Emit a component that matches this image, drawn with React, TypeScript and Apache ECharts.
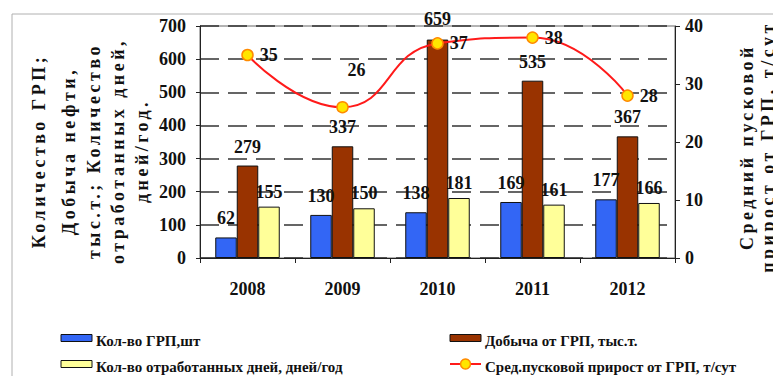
import React, { useEffect, useRef } from "react";
import * as echarts from "echarts";

const years = ["2008", "2009", "2010", "2011", "2012"];
const grpCount = [62, 130, 138, 169, 177];
const oilProduction = [279, 337, 659, 535, 367];
const workedDays = [155, 150, 181, 161, 166];
const avgIncrease = [35, 26, 37, 38, 28];

const seriesNames = [
  "Кол-во ГРП,шт",
  "Добыча от ГРП, тыс.т.",
  "Кол-во отработанных дней, дней/год",
  "Сред.пусковой прирост от ГРП, т/сут",
];

const leftTitle = [
  "Количество ГРП;",
  "Добыча нефти,",
  "тыс.т.; Количество",
  "отработанных дней,",
  "дней/год.",
];
const rightTitle = ["Средний пусковой", "прирост от ГРП, т/сут"];

const SERIF = "Liberation Serif";
const COLORS = ["#3366F5", "#993300", "#FFFF99", "#FF1A1A"];

export default function App() {
  const ref = useRef<HTMLDivElement>(null);
  useEffect(() => {
    if (!ref.current) return;
    const chart = echarts.init(ref.current, null, { renderer: "svg" });

    const labelStyle = {
      show: true,
      position: "top",
      fontFamily: SERIF,
      fontWeight: "bold",
      fontSize: 18,
      color: "#111",
    };

    const leftX = [39, 69, 94, 118, 142];
    const rightX = [747, 768];

    const titleStyle = (t: string) => ({
      text: t,
      fontFamily: SERIF,
      fontWeight: "bold",
      fontSize: 18,
      fill: "#111",
      textAlign: "center",
      textVerticalAlign: "middle",
    });

    // legend drawn as graphic elements: [iconX, textCenterY]
    const legendSlots = [
      [61, 341],
      [450, 341],
      [61, 367],
      [450, 367],
    ];
    const legendGraphics: any[] = [];
    seriesNames.forEach((name, i) => {
      const [x, cy] = legendSlots[i];
      const iy = cy - 3;
      if (i < 3) {
        legendGraphics.push({
          type: "rect",
          shape: { x, y: iy - 3.5, width: 31, height: 7 },
          style: { fill: COLORS[i], stroke: "#111", lineWidth: 1 },
        });
      } else {
        legendGraphics.push({
          type: "line",
          shape: { x1: x, y1: iy, x2: x + 31, y2: iy },
          style: { stroke: COLORS[3], lineWidth: 2 },
        });
        legendGraphics.push({
          type: "circle",
          shape: { cx: x + 15.5, cy: iy, r: 5 },
          style: { fill: "#FFE600", stroke: "#FF8A00", lineWidth: 1.5 },
        });
      }
      legendGraphics.push({
        type: "text",
        x: x + 35,
        y: cy,
        style: {
          text: name,
          fontFamily: SERIF,
          fontWeight: "bold",
          fontSize: 15,
          fill: "#111",
          textAlign: "left",
          textVerticalAlign: "middle",
        },
      });
    });

    const graphics: any[] = [
      {
        type: "rect",
        z: -10,
        shape: { x: 12, y: 14, width: 800, height: 400 },
        style: { fill: "none", stroke: "#b0b0b0", lineWidth: 1 },
      },
      ...leftTitle.map((t, i) => ({
        type: "text",
        x: leftX[i],
        y: 151,
        rotation: Math.PI / 2,
        style: titleStyle(t),
      })),
      ...rightTitle.map((t, i) => ({
        type: "text",
        x: rightX[i],
        y: 147,
        rotation: Math.PI / 2,
        style: titleStyle(t),
      })),
      ...legendGraphics,
    ];

    const option: any = {
      animation: false,
      backgroundColor: "#fff",
      textStyle: { fontFamily: SERIF },
      grid: {
        left: 200,
        right: 98,
        top: 26,
        bottom: 118,
        show: true,
        borderColor: "#666",
        borderWidth: 1,
      },
      xAxis: {
        type: "category",
        data: years,
        axisLine: { lineStyle: { color: "#222", width: 1 } },
        axisTick: { show: true, length: 5, lineStyle: { color: "#222" } },
        axisLabel: {
          fontFamily: SERIF,
          fontWeight: "bold",
          fontSize: 18,
          color: "#111",
          margin: 22,
        },
      },
      yAxis: [
        {
          type: "value",
          min: 0,
          max: 700,
          interval: 100,
          axisLine: { show: true, lineStyle: { color: "#222" } },
          axisTick: { show: true, length: 4, lineStyle: { color: "#222" } },
          axisLabel: {
            fontFamily: SERIF,
            fontWeight: "bold",
            fontSize: 18,
            color: "#111",
            margin: 14,
          },
          splitLine: {
            show: true,
            lineStyle: { color: "#333", width: 1.5, type: [19, 9] },
          },
        },
        {
          type: "value",
          min: 0,
          max: 40,
          interval: 10,
          position: "right",
          axisLine: { show: true, lineStyle: { color: "#222" } },
          axisTick: { show: true, length: 5, lineStyle: { color: "#222" } },
          axisLabel: {
            fontFamily: SERIF,
            fontWeight: "bold",
            fontSize: 18,
            color: "#111",
            margin: 10,
          },
          splitLine: { show: false },
        },
      ],
      series: [
        {
          name: seriesNames[0],
          type: "bar",
          data: grpCount,
          barWidth: 21.5,
          barGap: "0%",
          itemStyle: { color: COLORS[0], borderColor: "#111", borderWidth: 1 },
          label: { ...labelStyle, distance: 10 },
        },
        {
          name: seriesNames[1],
          type: "bar",
          data: oilProduction.map((v, i) =>
            i === 2 ? { value: v, label: { offset: [0, -2] } } : v
          ),
          barWidth: 21.5,
          barGap: "0%",
          itemStyle: { color: COLORS[1], borderColor: "#111", borderWidth: 1 },
          label: { ...labelStyle, distance: 10 },
        },
        {
          name: seriesNames[2],
          type: "bar",
          data: workedDays,
          barWidth: 21.5,
          barGap: "0%",
          itemStyle: { color: COLORS[2], borderColor: "#111", borderWidth: 1 },
          label: { ...labelStyle, distance: 6 },
        },
        {
          name: seriesNames[3],
          type: "line",
          yAxisIndex: 1,
          data: avgIncrease.map((v, i) =>
            i === 1
              ? { value: v, label: { position: "top", offset: [14, -16] } }
              : v
          ),
          smooth: 0.5,
          symbol: "circle",
          symbolSize: 11,
          z: 5,
          lineStyle: { color: COLORS[3], width: 2 },
          itemStyle: { color: "#FFE600", borderColor: "#FF8A00", borderWidth: 1.5 },
          label: { ...labelStyle, position: "right", distance: 6 },
        },
      ],
      graphic: graphics,
    };

    chart.setOption(option);

    // widen the axis titles' letter spacing, as in the reference
    const titles = new Set([...leftTitle, ...rightTitle]);
    ref.current.querySelectorAll("text").forEach((el) => {
      if (titles.has((el.textContent || "").trim())) {
        (el as SVGTextElement).style.letterSpacing = "3.5px";
      }
    });

    return () => chart.dispose();
  }, []);

  return (
    <div
      ref={ref}
      style={{ position: "fixed", left: 0, top: 0, width: 773, height: 376 }}
    />
  );
}
